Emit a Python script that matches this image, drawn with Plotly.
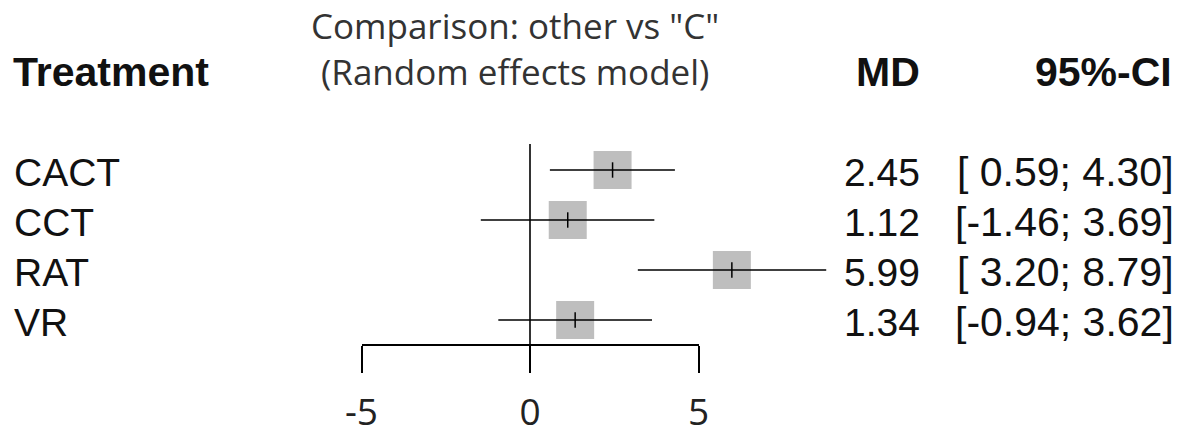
import plotly.graph_objects as go

# ---- data ----
treatments = ["CACT", "CCT", "RAT", "VR"]
md = [2.45, 1.12, 5.99, 1.34]
ci_lower = [0.59, -1.46, 3.20, -0.94]
ci_upper = [4.30, 3.69, 8.79, 3.62]
ref_value = 0
tick_vals = [-5, 0, 5]
tick_labels = ["-5", "0", "5"]
title_lines = ['Comparison: other vs "C"', "(Random effects model)"]
col_headers = ["Treatment", "MD", "95%-CI"]

W, H = 1182, 443
px_per_unit = 33.7
zero_px = 530
x_range = [-zero_px / px_per_unit, (W - zero_px) / px_per_unit]
row_px0, row_step = 170, 50
y_range = [(H - row_px0) / row_step, -row_px0 / row_step]  # reversed


def ypx(p):
    return (p - row_px0) / row_step


def xpaper(p):
    return p / W


rows = list(range(len(treatments)))

fig = go.Figure()

# squares
fig.add_trace(go.Scatter(
    x=md, y=rows, mode="markers",
    marker=dict(symbol="square", size=38, color="#BEBEBE", line=dict(width=0)),
    hoverinfo="skip", showlegend=False, cliponaxis=False))

# CI lines + estimate tick
fig.add_trace(go.Scatter(
    x=md, y=rows, mode="markers",
    marker=dict(symbol="line-ns", size=11, color="black",
                line=dict(color="black", width=1.5)),
    error_x=dict(type="data", symmetric=False,
                 array=[u - m for u, m in zip(ci_upper, md)],
                 arrayminus=[m - l for m, l in zip(md, ci_lower)],
                 width=0, thickness=1.6, color="black"),
    hoverinfo="skip", showlegend=False, cliponaxis=False))

# dummy trace for the bottom axis subplot
fig.add_trace(go.Scatter(x=[None], y=[None], xaxis="x2", yaxis="y",
                         mode="markers", showlegend=False, hoverinfo="skip"))

# reference line
fig.add_shape(type="line", xref="x", yref="y", x0=ref_value, x1=ref_value,
              y0=ypx(144), y1=ypx(372), line=dict(color="black", width=1.6))

lab_font = dict(family="Liberation Sans, Arial, sans-serif", size=39, color="#111111")
ci_font = dict(family="Liberation Sans, Arial, sans-serif", size=41, color="#111111")
bold_font = dict(family="Liberation Sans, Arial, sans-serif", size=41, color="#111111")
title_font = dict(family="Open Sans, sans-serif", size=35, color="#333333")

anns = []
for i, t in enumerate(treatments):
    anns.append(dict(x=xpaper(12), y=i + 0.04, xref="paper", yref="y", text=t,
                     xanchor="left", yanchor="middle", showarrow=False, font=lab_font))
    anns.append(dict(x=xpaper(922), y=i + 0.04, xref="paper", yref="y",
                     text=f"{md[i]:.2f}", xanchor="right", yanchor="middle",
                     showarrow=False, font=lab_font))
    ci_txt = f"[{ci_lower[i]:5.2f}; {ci_upper[i]:.2f}]".replace(" ", "\u00a0")
    anns.append(dict(x=xpaper(1176), y=i + 0.04, xref="paper", yref="y",
                     text=ci_txt, xanchor="right", yanchor="middle",
                     showarrow=False, font=ci_font))

# headers
anns.append(dict(x=xpaper(11), y=ypx(72), xref="paper", yref="y",
                 text=f"<b>{col_headers[0]}</b>", xanchor="left", yanchor="middle",
                 showarrow=False, font=bold_font))
anns.append(dict(x=xpaper(922), y=ypx(72), xref="paper", yref="y",
                 text=f"<b>{col_headers[1]}</b>", xanchor="right", yanchor="middle",
                 showarrow=False, font=bold_font))
anns.append(dict(x=xpaper(1174), y=ypx(72), xref="paper", yref="y",
                 text=f"<b>{col_headers[2]}</b>", xanchor="right", yanchor="middle",
                 showarrow=False, font=bold_font))
anns.append(dict(x=xpaper(515), y=ypx(25), xref="paper", yref="y",
                 text=title_lines[0], xanchor="center", yanchor="middle",
                 showarrow=False, font=title_font))
anns.append(dict(x=xpaper(515), y=ypx(71), xref="paper", yref="y",
                 text=title_lines[1], xanchor="center", yanchor="middle",
                 showarrow=False, font=title_font))

span = x_range[1] - x_range[0]
dom = [(tick_vals[0] - x_range[0]) / span, (tick_vals[-1] - x_range[0]) / span]

fig.update_layout(
    width=W, height=H, margin=dict(l=0, r=0, t=0, b=0, pad=0, autoexpand=False),
    paper_bgcolor="white", plot_bgcolor="rgba(0,0,0,0)",
    showlegend=False, annotations=anns,
    xaxis=dict(range=x_range, visible=False, domain=[0, 1], automargin=False),
    yaxis=dict(range=y_range, visible=False, domain=[0, 1], automargin=False),
    xaxis2=dict(range=[tick_vals[0], tick_vals[-1]], domain=dom, anchor="free",
                position=1 - 345 / H, side="bottom", automargin=False,
                showline=True, linecolor="black", linewidth=1.6,
                ticks="outside", ticklen=27, tickwidth=1.6, tickcolor="black",
                tickvals=tick_vals, ticktext=tick_labels,
                ticklabelstandoff=8,
                tickfont=dict(family="Open Sans, sans-serif", size=37, color="#222222"),
                showgrid=False, zeroline=False),
)

fig.write_html("out.html")
